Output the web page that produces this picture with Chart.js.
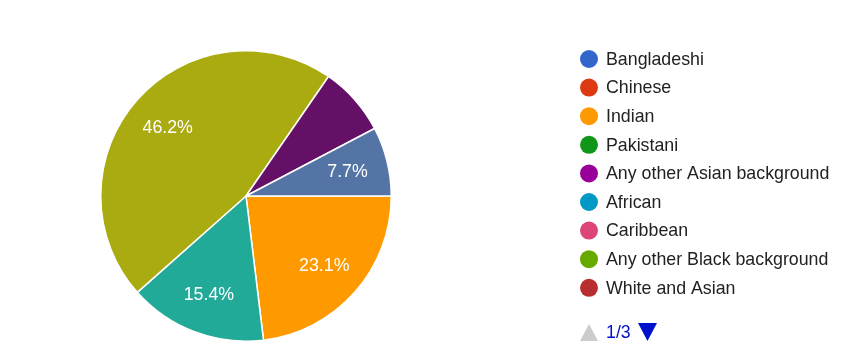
<!DOCTYPE html>
<html>
<head>
<meta charset="utf-8">
<script src="https://cdn.jsdelivr.net/npm/chart.js@4/dist/chart.umd.min.js"></script>
<style>
html,body{margin:0;padding:0;background:#fff;}
#wrap{width:867px;height:358px;}
</style>
</head>
<body>
<div id="wrap"><canvas id="c" width="867" height="358"></canvas></div>
<script>
// Categories (legend shows the first page of 9; pager 1/3)
const categories = [
  "Bangladeshi", "Chinese", "Indian", "Pakistani", "Any other Asian background",
  "African", "Caribbean", "Any other Black background", "White and Asian",
  "White and Black African", "White and Black Caribbean", "Any other Mixed background",
  "White British", "White Irish", "Gypsy or Irish Traveller", "Any other White background",
  "Arab", "Any other ethnic group", "Prefer not to say"
];
// Response counts (13 in total)
const counts = [0, 0, 3, 0, 0, 0, 0, 0, 0, 0, 0, 2, 6, 0, 0, 0, 1, 0, 1];
const palette = ["#3366cc","#dc3912","#ff9900","#109618","#990099","#0099c6","#dd4477","#66aa00","#b82e2e","#316395","#994499","#22aa99","#aaaa11","#6633cc","#e67300","#8b0707","#651067","#329262","#5574a6","#3b3eac"];
const perPage = 9;

const FONT = '17.8px "Liberation Sans", Arial, sans-serif';

const sliceLabels = {
  id: 'sliceLabels',
  afterDatasetsDraw(chart) {
    const ctx = chart.ctx;
    const meta = chart.getDatasetMeta(0);
    const data = chart.data.datasets[0].data;
    const total = data.reduce((a, b) => a + b, 0);
    ctx.save();
    ctx.font = FONT;
    ctx.fillStyle = '#ffffff';
    ctx.textAlign = 'center';
    ctx.textBaseline = 'middle';
    const pad = 7;
    meta.data.forEach((arc, i) => {
      const v = data[i];
      if (!v) return;
      const { x, y, startAngle, endAngle, outerRadius } = arc.getProps(['x','y','startAngle','endAngle','outerRadius'], true);
      const mid = (startAngle + endAngle) / 2;
      const r = outerRadius * 0.72;
      const lx = x + Math.cos(mid) * r, ly = y + Math.sin(mid) * r;
      const txt = (v / total * 100).toFixed(1) + '%';
      const w = ctx.measureText(txt).width, h = 13;
      const corners = [[lx - w/2, ly - h/2],[lx + w/2, ly - h/2],[lx - w/2, ly + h/2],[lx + w/2, ly + h/2]];
      const span = endAngle - startAngle;
      let fits = true;
      for (const [cx, cy] of corners) {
        const px = cx - x, py = cy - y;
        if (Math.hypot(px, py) > outerRadius - pad) { fits = false; break; }
        if (span < Math.PI) {
          let a = Math.atan2(py, px) - startAngle;
          while (a < 0) a += 2 * Math.PI;
          while (a >= 2 * Math.PI) a -= 2 * Math.PI;
          if (a > span) { fits = false; break; }
          const d1 = Math.abs(px * Math.sin(startAngle) - py * Math.cos(startAngle));
          const d2 = Math.abs(px * Math.sin(endAngle) - py * Math.cos(endAngle));
          if (d1 < pad || d2 < pad) { fits = false; break; }
        }
      }
      if (fits) ctx.fillText(txt, lx, ly + 1);
    });
    ctx.restore();
  }
};

const sideLegend = {
  id: 'sideLegend',
  afterDraw(chart) {
    const ctx = chart.ctx;
    const labels = chart.data.labels;
    const pages = Math.ceil(labels.length / perPage);
    ctx.save();
    ctx.font = FONT;
    ctx.textBaseline = 'middle';
    ctx.textAlign = 'left';
    const x0 = 589, y0 = 59, step = 28.6;
    labels.slice(0, perPage).forEach((lab, i) => {
      const yy = y0 + i * step;
      ctx.fillStyle = palette[i % palette.length];
      ctx.beginPath();
      ctx.arc(x0, yy, 9, 0, Math.PI * 2);
      ctx.fill();
      ctx.fillStyle = '#222222';
      ctx.fillText(lab, 606, yy + 1);
    });
    // pager
    const py = 332;
    ctx.fillStyle = '#cccccc';
    ctx.beginPath();
    ctx.moveTo(580, py + 9); ctx.lineTo(598, py + 9); ctx.lineTo(589, py - 8); ctx.closePath();
    ctx.fill();
    ctx.fillStyle = '#0011cc';
    ctx.fillText('1/' + pages, 606, py + 1);
    ctx.beginPath();
    ctx.moveTo(638, py - 9); ctx.lineTo(657, py - 9); ctx.lineTo(647.5, py + 9); ctx.closePath();
    ctx.fill();
    ctx.restore();
  }
};

new Chart(document.getElementById('c'), {
  type: 'pie',
  data: {
    labels: categories,
    datasets: [{
      data: counts,
      backgroundColor: categories.map((_, i) => palette[i % palette.length]),
      borderColor: '#ffffff',
      borderWidth: 1.5,
      hoverOffset: 0
    }]
  },
  options: {
    responsive: false,
    animation: false,
    rotation: 90,
    layout: { padding: { left: 100, right: 475, top: 50, bottom: 16 } },
    plugins: {
      legend: { display: false },
      tooltip: { enabled: false }
    }
  },
  plugins: [sliceLabels, sideLegend]
});
</script>
</body>
</html>
